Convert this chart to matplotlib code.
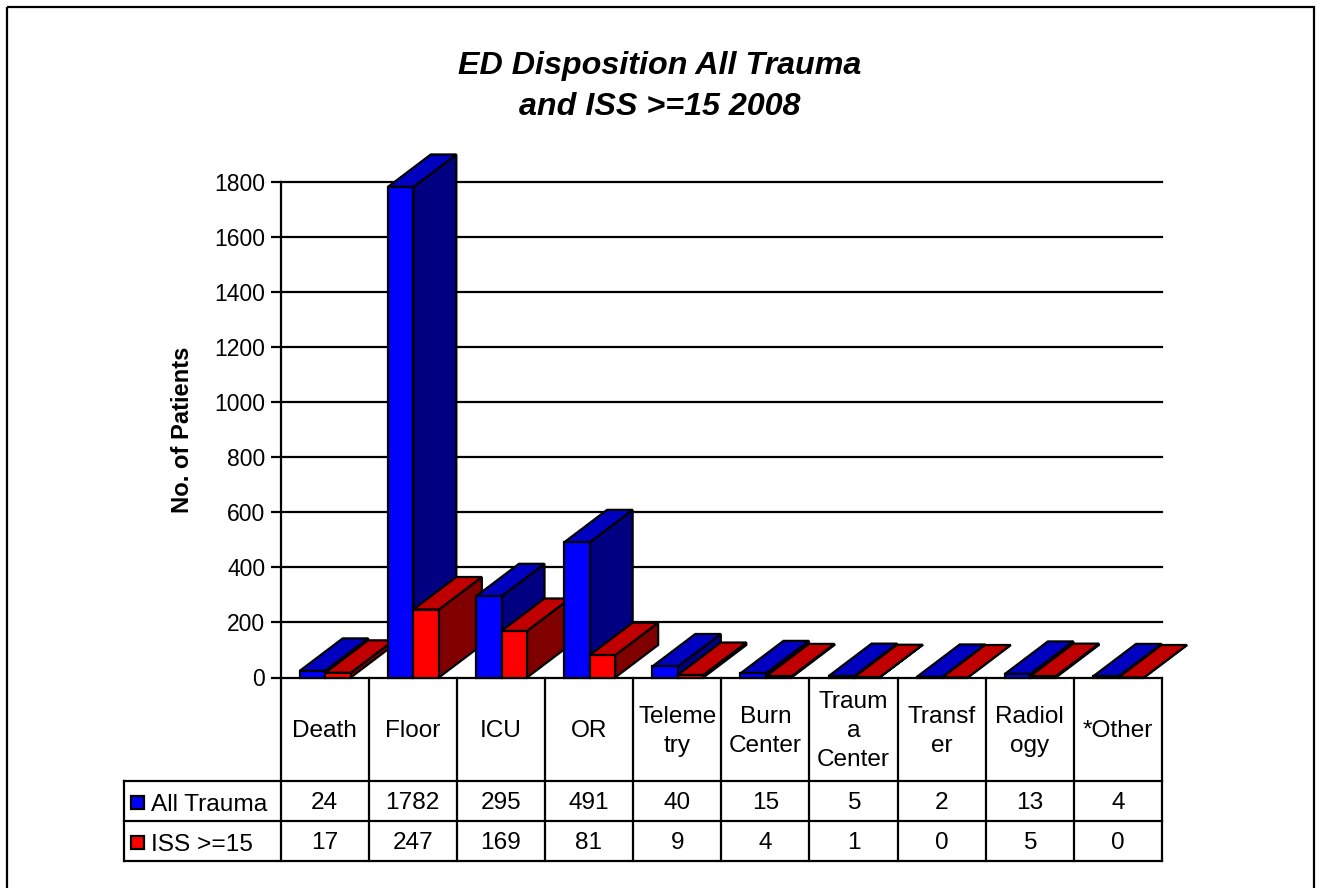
import matplotlib
matplotlib.use("Agg")
import matplotlib.pyplot as plt
from matplotlib.patches import Polygon, Rectangle

plt.rcParams['font.family'] = ['Liberation Sans', 'DejaVu Sans']

categories = ['Death', 'Floor', 'ICU', 'OR', 'Teleme\ntry', 'Burn\nCenter',
              'Traum\na\nCenter', 'Transf\ner', 'Radiol\nogy', '*Other']
all_trauma = [24, 1782, 295, 491, 40, 15, 5, 2, 13, 4]
iss_15 = [17, 247, 169, 81, 9, 4, 1, 0, 5, 0]
y_ticks = [0, 200, 400, 600, 800, 1000, 1200, 1400, 1600, 1800]
series_names = ['All Trauma', 'ISS >=15']

W, H = 1321, 888
fig = plt.figure(figsize=(W / 100, H / 100), dpi=100, facecolor='white')
LW = 1.6
FS = 17.6

# overlay in pixel coordinates: frame, table, title
ov = fig.add_axes([0, 0, 1, 1], zorder=0)
ov.set_xlim(0, W)
ov.set_ylim(H, 0)
ov.axis('off')

X0, X1, Y0, Y1 = 280.5, 1162, 677.5, 182
ax = fig.add_axes([X0 / W, 1 - Y0 / H, (X1 - X0) / W, (Y0 - Y1) / H], zorder=1)
ax.patch.set_alpha(0)
ax.set_xlim(0, len(categories))
ax.set_ylim(0, 1800)
for s in ['top', 'right', 'bottom']:
    ax.spines[s].set_visible(False)
ax.spines['left'].set_linewidth(LW)
ax.spines['left'].set_capstyle('projecting')
ax.set_yticks(y_ticks)
ax.tick_params(axis='y', length=7.5, width=LW, labelsize=16.5, pad=3.5)
ax.set_xticks([])
ax.yaxis.grid(True, color='black', linewidth=LW, zorder=0)
for gl in ax.get_ygridlines():
    gl.set_clip_on(False)
ax.set_axisbelow(True)
ax.set_ylabel('No. of Patients', fontsize=17.1, fontweight='bold', labelpad=14.5)

cat_px = (X1 - X0) / len(categories)
px_y = 1800 / (Y0 - Y1)
gap = 19.2 / cat_px
bw = 25.5 / cat_px
ddx = 43 / cat_px
ddy = 32.5 * px_y


def bar3d(x, v, front, top, side, z):
    kw = dict(edgecolor='black', linewidth=LW, clip_on=False, zorder=z, joinstyle='miter')
    ax.add_patch(Polygon([(x + bw, 0), (x + bw + ddx, ddy), (x + bw + ddx, v + ddy), (x + bw, v)],
                         facecolor=side, **kw))
    ax.add_patch(Polygon([(x, v), (x + ddx, v + ddy), (x + bw + ddx, v + ddy), (x + bw, v)],
                         facecolor=top, **kw))
    ax.add_patch(Rectangle((x, 0), bw, v, facecolor=front, **kw))


z = 3
for i in range(len(categories)):
    bar3d(i + gap, all_trauma[i], '#0000FF', '#0000C0', '#000080', z)
    bar3d(i + gap + bw, iss_15[i], '#FF0000', '#C00000', '#800000', z + 1)
    z += 2

# frame (bottom edge lies outside the canvas)
ov.add_patch(Rectangle((7, 7), 1307, 900, fill=False, edgecolor='black', linewidth=LW, clip_on=True))

# title
ov.text(660, 66, 'ED Disposition All Trauma', ha='center', va='center',
        fontsize=23.2, fontweight='bold', fontstyle='italic')
ov.text(660, 107, 'and ISS >=15 2008', ha='center', va='center',
        fontsize=23.2, fontweight='bold', fontstyle='italic')

# data table
T_L, R0, R1, R2 = 123.5, 781, 821, 861
for y in (R0, R1, R2):
    ov.plot([T_L, X1], [y, y], color='black', lw=LW, solid_capstyle='projecting')
ov.plot([T_L, T_L], [R0, R2], color='black', lw=LW)
for i in range(len(categories) + 1):
    x = X0 + i * cat_px
    ov.plot([x, x], [Y0, R2], color='black', lw=LW)

for i, c in enumerate(categories):
    xc = X0 + (i + 0.5) * cat_px
    ov.text(xc, (Y0 + R0) / 2 + 2, c, ha='center', va='center', fontsize=FS, linespacing=1.4)
    ov.text(xc, (R0 + R1) / 2 + 2, str(all_trauma[i]), ha='center', va='center', fontsize=FS)
    ov.text(xc, (R1 + R2) / 2 + 2, str(iss_15[i]), ha='center', va='center', fontsize=FS)

for (name, col, y0, y1) in [(series_names[0], '#0000FF', R0, R1), (series_names[1], '#FF0000', R1, R2)]:
    ym = (y0 + y1) / 2
    ov.add_patch(Rectangle((130.5, ym - 5), 13, 13, facecolor=col, edgecolor='black', linewidth=LW))
    ov.text(151, ym + 3.5, name, ha='left', va='center', fontsize=FS)

fig.savefig('out.png', dpi=100, facecolor='white')
